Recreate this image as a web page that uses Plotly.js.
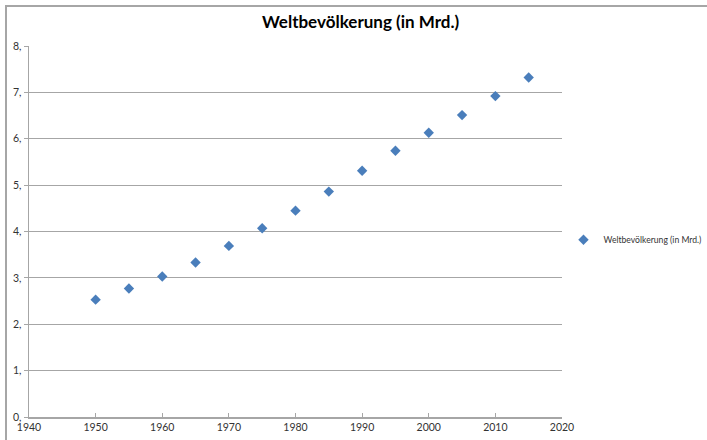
<!DOCTYPE html>
<html>
<head>
<meta charset="utf-8">
<script src="https://cdn.plot.ly/plotly-3.0.1.min.js"></script>
<style>
  body { margin: 0; background: #fff; }
  #frame { position: absolute; left: 5px; top: 5px; width: 720px; height: 460px;
           border-left: 2px solid #a6a6a6; border-top: 2px solid #a6a6a6; pointer-events: none; }
  #chart { width: 707px; height: 440px; }
</style>
</head>
<body>
<div id="chart"></div>
<div id="frame"></div>
<script>
var years = [1950, 1955, 1960, 1965, 1970, 1975, 1980, 1985, 1990, 1995, 2000, 2005, 2010, 2015];
var population = [2.53, 2.77, 3.03, 3.33, 3.69, 4.07, 4.45, 4.86, 5.31, 5.74, 6.13, 6.51, 6.92, 7.32];
var yTicks = [0, 1, 2, 3, 4, 5, 6, 7, 8];
var yTickText = ['0,', '1,', '2,', '3,', '4,', '5,', '6,', '7,', '8,'];

var trace = {
  x: years,
  y: population,
  name: 'Weltbevölkerung (in Mrd.)',
  type: 'scatter',
  mode: 'markers',
  marker: { symbol: 'diamond', size: 8, color: '#4a7ebb' },
  showlegend: true
};

var layout = {
  paper_bgcolor: '#fff',
  plot_bgcolor: '#fff',
  font: { family: 'Lato, "Open Sans", sans-serif', color: '#333', size: 10.5 },
  title: { text: '<b>Weltbevölkerung (in Mrd.)</b>', font: { size: 17, color: '#000' }, x: 0.51, xref: 'container', y: 0.95, yanchor: 'middle' },
  margin: { t: 46, r: 145, b: 23, l: 29 },
  xaxis: {
    range: [1940, 2020], tickvals: [1940, 1950, 1960, 1970, 1980, 1990, 2000, 2010, 2020],
    showgrid: false, zeroline: false, showline: true, linecolor: '#a6a6a6', linewidth: 1.5,
    ticks: 'inside', ticklen: 4, tickcolor: '#a6a6a6'
  },
  yaxis: {
    range: [0, 8], tickvals: yTicks, ticktext: yTickText,
    showgrid: true, gridcolor: '#a6a6a6', gridwidth: 1, zeroline: false,
    showline: true, linecolor: '#a6a6a6', linewidth: 1.5,
    ticks: 'outside', ticklen: 4, tickcolor: '#a6a6a6'
  },
  legend: { xref: 'container', yref: 'container', x: 0.797, y: 0.455, xanchor: 'left', yanchor: 'middle',
            font: { size: 8.6 }, bgcolor: 'rgba(0,0,0,0)', itemwidth: 30 },
  width: 707,
  height: 440
};

Plotly.newPlot('chart', [trace], layout, { displayModeBar: false, staticPlot: true });
</script>
</body>
</html>
